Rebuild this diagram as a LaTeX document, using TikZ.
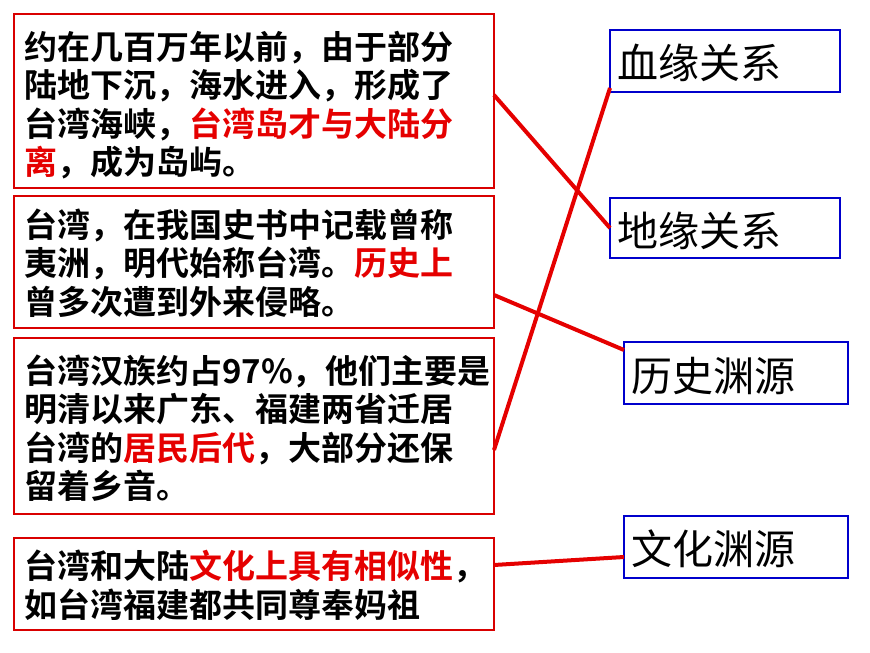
\documentclass[tikz,border=0pt]{standalone}
\usepackage{fontspec}
\newfontfamily\cjk{Noto Sans CJK SC}
\newfontfamily\cjkb{Noto Sans CJK SC Bold}
\begin{document}
\begin{tikzpicture}[x=1pt,y=-1pt,
  lbox/.style={draw=red!85!black,line width=2pt},
  rbox/.style={draw=blue!80!black,line width=2pt},
  ltext/.style={anchor=west,align=left,inner sep=0pt,font=\cjkb\fontsize{33}{38.5}\selectfont},
  rtext/.style={anchor=west,inner sep=0pt,font=\cjk\fontsize{41}{44}\selectfont},
  link/.style={draw=red!90!black,line width=4pt}]
\useasboundingbox (0,0) rectangle (870,653);
\def\R#1{\textcolor{red!90!black}{#1}}
\draw[lbox] (14,14) rectangle (494,188);
\draw[lbox] (14,196) rectangle (494,328);
\draw[lbox] (14,338) rectangle (494,514);
\draw[lbox] (14,538) rectangle (494,630);
\node[ltext] (t1) at (24,105) {约在几百万年以前，由于部分\\陆地下沉，海水进入，形成了\\台湾海峡，\R{台湾岛才与大陆分}\\\R{离}，成为岛屿。};
\node[ltext] (t2) at (24,263) {台湾，在我国史书中记载曾称\\夷洲，明代始称台湾。\R{历史上}\\曾多次遭到外来侵略。};
\node[ltext] (t3) at (24,428) {台湾汉族约占97\%，他们主要是\\明清以来广东、福建两省迁居\\台湾的\R{居民后代}，大部分还保\\留着乡音。};
\node[ltext] (t4) at (24,585) {台湾和大陆\R{文化上具有相似性}，\\如台湾福建都共同尊奉妈祖};
\draw[rbox] (610,30) rectangle (840,92);
\draw[rbox] (610,198) rectangle (840,258);
\draw[rbox] (624,342) rectangle (848,404);
\draw[rbox] (624,516) rectangle (848,578);
\node[rtext] (r1) at (617,63) {血缘关系};
\node[rtext] (r2) at (617,231) {地缘关系};
\node[rtext] (r3) at (631,376) {历史渊源};
\node[rtext] (r4) at (631,549) {文化渊源};
\coordinate (a1) at (494,95); \coordinate (b2) at (610,228);
\coordinate (a2) at (494,295); \coordinate (b3) at (624,350);
\coordinate (a3) at (494,450); \coordinate (b1) at (610,88);
\coordinate (a4) at (494,565); \coordinate (b4) at (624,557);
\draw[link] (a1) -- (b2);
\draw[link] (a2) -- (b3);
\draw[link] (a3) -- (b1);
\draw[link] (a4) -- (b4);
\end{tikzpicture}
\end{document}
